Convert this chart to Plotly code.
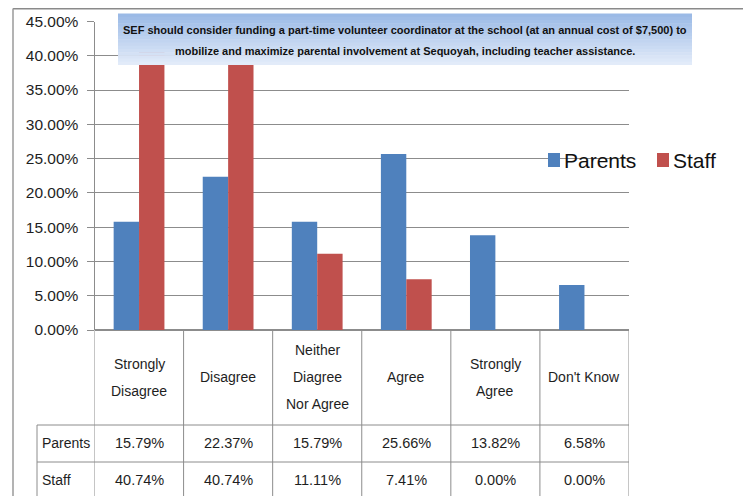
import plotly.graph_objects as go

# page body has an 8px margin, so the figure sits at (8, 8)
OFF = 8
W, H = 751 - OFF, 496 - OFF

categories = ["Strongly Disagree", "Disagree", "Neither Diagree Nor Agree",
              "Agree", "Strongly Agree", "Don't Know"]
cat_lines = [["Strongly", "Disagree"], ["Disagree"], ["Neither", "Diagree", "Nor Agree"],
             ["Agree"], ["Strongly", "Agree"], ["Don't Know"]]
parents = [0.1579, 0.2237, 0.1579, 0.2566, 0.1382, 0.0658]
staff = [0.4074, 0.4074, 0.1111, 0.0741, 0.0, 0.0]
title_lines = ["SEF should consider funding a part-time volunteer coordinator at the school (at an annual cost of $7,500) to",
               "mobilize and maximize parental involvement at Sequoyah, including teacher assistance."]

BLUE, RED = "#4F81BD", "#C0504D"
GRID = "#8c8c8c"
FONT = "Liberation Sans, Arial, sans-serif"
TXT = "#1e1e1e"


def px(x):
    return (x - OFF) / W


def py(y):
    return 1 - (y - OFF) / H


fig = go.Figure()
fig.add_trace(go.Bar(x=categories, y=parents, name="Parents", marker=dict(color=BLUE, line=dict(width=0))))
fig.add_trace(go.Bar(x=categories, y=staff, name="Staff", marker=dict(color=RED, line=dict(width=0))))

shapes = []
annotations = []

# outer frame
shapes.append(dict(type="line", xref="paper", yref="paper", x0=px(13), x1=1.0, y0=py(8.5), y1=py(8.5),
                   line=dict(color="#8a8a8a", width=2)))
shapes.append(dict(type="line", xref="paper", yref="paper", x0=px(13), x1=px(13), y0=py(8.5), y1=0,
                   line=dict(color="#9a9a9a", width=1.5)))

# data table grid
for i in range(len(categories) + 1):
    shapes.append(dict(type="line", xref="x", yref="paper", x0=i - 0.5, x1=i - 0.5,
                       y0=py(330), y1=0, line=dict(color=GRID, width=1)))
shapes.append(dict(type="line", xref="paper", yref="paper", x0=px(37), x1=px(37),
                   y0=py(425), y1=0, line=dict(color=GRID, width=1)))
for yy in (425, 462):
    shapes.append(dict(type="line", xref="paper", yref="paper", x0=px(37), x1=px(629),
                       y0=py(yy), y1=py(yy), line=dict(color=GRID, width=1)))

# category header text
for i, lines in enumerate(cat_lines):
    n = len(lines)
    for j, t in enumerate(lines):
        yc = 377 + (j - (n - 1) / 2) * 27
        annotations.append(dict(x=i, y=py(yc), xref="x", yref="paper", text=t, showarrow=False,
                                font=dict(size=14, color=TXT, family=FONT),
                                xanchor="center", yanchor="middle"))

# value rows
for name, vals, yc in (("Parents", parents, 443), ("Staff", staff, 480)):
    annotations.append(dict(x=px(40), y=py(yc), xref="paper", yref="paper", text=name,
                            showarrow=False, font=dict(size=14, color=TXT, family=FONT),
                            xanchor="left", yanchor="middle"))
    for i, v in enumerate(vals):
        annotations.append(dict(x=i, y=py(yc), xref="x", yref="paper", text=f"{v * 100:.2f}%",
                                showarrow=False, font=dict(size=14.5, color=TXT, family=FONT),
                                xanchor="center", yanchor="middle"))

# title box with a stepped vertical gradient
bx0, bx1, by0, by1 = 118, 692, 13.5, 65
steps = 16
c0, c1 = (155, 186, 230), (226, 235, 249)
for k in range(steps):
    t = k / (steps - 1)
    c = tuple(round(a + (b - a) * t) for a, b in zip(c0, c1))
    ya = by0 + (by1 - by0) * k / steps
    yb = by0 + (by1 - by0) * (k + 1) / steps
    shapes.append(dict(type="rect", xref="paper", yref="paper", layer="above",
                       x0=px(bx0), x1=px(bx1), y0=py(ya), y1=py(min(yb + 0.5, by1)),
                       fillcolor="rgb(%d,%d,%d)" % c, line=dict(width=0)))
for j, t in enumerate(title_lines):
    annotations.append(dict(x=px((bx0 + bx1) / 2), y=py(29.5 + j * 21), xref="paper", yref="paper",
                            text="<b>" + t + "</b>", showarrow=False,
                            font=dict(size=11, color="#111111", family=FONT),
                            xanchor="center", yanchor="middle"))

# legend
for name, col, sx in (("Parents", BLUE, 548), ("Staff", RED, 657)):
    shapes.append(dict(type="rect", xref="paper", yref="paper", layer="above",
                       x0=px(sx), x1=px(sx + 12), y0=py(153), y1=py(167),
                       fillcolor=col, line=dict(width=0)))
    annotations.append(dict(x=px(sx + 14), y=py(160), xref="paper", yref="paper", text=name,
                            showarrow=False, font=dict(size=21, color="#111", family=FONT),
                            xanchor="left", yanchor="middle"))

fig.update_layout(
    width=W, height=H, autosize=False,
    margin=dict(l=0, r=0, t=0, b=0, pad=0),
    paper_bgcolor="white", plot_bgcolor="white",
    showlegend=False,
    barmode="group", bargap=0.43, bargroupgap=0,
    font=dict(family=FONT, size=15, color=TXT),
    xaxis=dict(domain=[px(94.5), px(629)], range=[-0.5, 5.5], showticklabels=False,
               showgrid=False, zeroline=False, showline=False, fixedrange=True, automargin=False),
    yaxis=dict(domain=[py(330), py(21.5)], range=[0, 0.45], dtick=0.05, tickformat=".2%",
               showgrid=True, gridcolor=GRID, gridwidth=1, zeroline=True, zerolinecolor=GRID,
               showline=True, linecolor=GRID, ticks="outside", ticklen=7, tickcolor=GRID,
               tickfont=dict(size=15.5, color=TXT, family=FONT), ticklabelstandoff=5,
               automargin=False, fixedrange=True),
    shapes=shapes,
    annotations=annotations,
)

fig.write_html("out.html")
